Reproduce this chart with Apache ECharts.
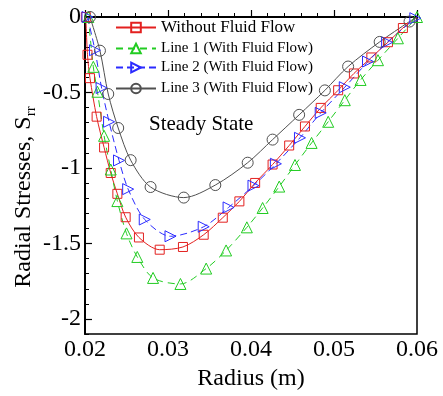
<!DOCTYPE html>
<html><head><meta charset="utf-8">
<script src="https://cdn.jsdelivr.net/npm/echarts@6/dist/echarts.min.js"></script>
<style>html,body{margin:0;padding:0;background:#fff}#c{width:443px;height:396px}</style>
</head><body><div id="c"></div>
<script>
const seriesNames = ['Without Fluid Flow','Line 1 (With Fluid Flow)','Line 2 (With Fluid Flow)','Line 3 (With Fluid Flow)'];
const radiusRed = [0.0201,0.0203,0.0206,0.0214,0.0223,0.0231,0.0239,0.0249,0.0265,0.0290,0.0318,0.0343,0.0366,0.0386,0.0405,0.0426,0.0446,0.0465,0.0484,0.0505,0.0524,0.0545,0.0565,0.0583,0.0600];
const stressRed = [0,-0.25,-0.405,-0.66,-0.864,-1.033,-1.171,-1.326,-1.46,-1.541,-1.523,-1.442,-1.329,-1.221,-1.099,-0.977,-0.851,-0.725,-0.602,-0.485,-0.374,-0.268,-0.167,-0.073,0];
const radiusGreen = [0.0204,0.0210,0.0215,0.0223,0.0231,0.0239,0.0250,0.0263,0.0282,0.0315,0.0346,0.0370,0.0395,0.0414,0.0434,0.0453,0.0473,0.0493,0.0513,0.0532,0.0553,0.0577,0.0600];
const stressGreen = [0,-0.33,-0.495,-0.787,-1.01,-1.219,-1.433,-1.589,-1.728,-1.768,-1.666,-1.546,-1.393,-1.265,-1.123,-0.98,-0.834,-0.694,-0.551,-0.417,-0.286,-0.141,0];
const radiusBlue = [0.0203,0.0212,0.0220,0.0229,0.0241,0.0252,0.0272,0.0303,0.0343,0.0373,0.0403,0.0430,0.0459,0.0484,0.0513,0.0541,0.0564,0.0598];
const stressBlue = [0,-0.22,-0.47,-0.694,-0.95,-1.14,-1.341,-1.452,-1.389,-1.261,-1.117,-0.972,-0.8,-0.635,-0.465,-0.295,-0.168,-0.008];
const radiusGray = [0.0206,0.0218,0.0228,0.0240,0.0255,0.0279,0.0319,0.0357,0.0396,0.0426,0.0458,0.0489,0.0517,0.0555,0.0591,0.0600];
const stressGray = [0,-0.223,-0.51,-0.735,-0.948,-1.126,-1.196,-1.113,-0.965,-0.812,-0.648,-0.486,-0.328,-0.165,-0.03,0];
const yMajorTicks = [-2,-1.5,-1,-0.5,0];

const FONT = '"Liberation Serif","Times New Roman",serif';
function pts(xs, ys, noMarkerLast) {
  return xs.map((x,i) => {
    const d = {value:[x, ys[i]]};
    if (noMarkerLast && i === xs.length-1) d.symbol = 'none';
    return d;
  });
}
const chart = echarts.init(document.getElementById('c'), null, {renderer:'canvas'});
function mkSeries(name, data, color, symbol, size, lineType, rotate) {
  return {
    name, type:'line', data, smooth:0.3, xAxisIndex:0, yAxisIndex:0,
    symbol, symbolSize:size, symbolRotate: rotate||0,
    lineStyle:{color, width:1, type:lineType},
    itemStyle:{color:'rgba(255,255,255,0)', borderColor:color, borderWidth:1},
    emphasis:{disabled:true}, animation:false, z:3
  };
}
const legendRows = [
  {name:seriesNames[0], top:19, size:17},
  {name:seriesNames[1], top:41, size:15},
  {name:seriesNames[2], top:60, size:15},
  {name:seriesNames[3], top:81, size:15}
];
chart.setOption({
  backgroundColor:'#fff',
  animation:false,
  grid:{left:85, right:26, top:17, bottom:49.5, show:true, borderColor:'#000', borderWidth:1.5, backgroundColor:'transparent'},
  legend: legendRows.map(r => ({
    data:[{name:r.name}], left:115, top:r.top, padding:0, itemWidth:40, itemHeight:12, itemGap:5,
    textStyle:{fontFamily:FONT, fontSize:r.size, color:'#000'}, selectedMode:false
  })),
  xAxis:[{
    type:'value', min:0.02, max:0.06, interval:0.01,
    axisLine:{show:true, lineStyle:{color:'#000', width:2}},
    axisTick:{show:true, inside:true, length:7, lineStyle:{color:'#000', width:1.2}},
    minorTick:{show:true, splitNumber:5, length:4, lineStyle:{color:'#000', width:1}},
    axisLabel:{fontFamily:FONT, fontSize:24, color:'#000', margin:4, formatter:v=>v.toFixed(2)},
    splitLine:{show:false},
    name:'Radius (m)', nameLocation:'middle', nameGap:28,
    nameTextStyle:{fontFamily:FONT, fontSize:24, color:'#000', verticalAlign:'top'}
  }],
  yAxis:[{
    type:'value', min:-2.1, max:0, interval:0.1,
    axisLine:{show:true, lineStyle:{color:'#000', width:2}},
    axisTick:{show:true, inside:true, length:4, lineStyle:{color:'#000', width:1}},
    axisLabel:{show:false}, splitLine:{show:false}
  },{
    type:'value', min:-2.1, max:0, position:'left',
    axisLine:{show:false},
    axisTick:{show:true, inside:true, length:7, customValues:yMajorTicks, lineStyle:{color:'#000', width:1.2}},
    axisLabel:{show:true, customValues:yMajorTicks, fontFamily:FONT, fontSize:24, color:'#000', margin:4},
    splitLine:{show:false}
  }],
  graphic:[
    {type:'text', x:149, y:124, style:{text:'Steady State', fontFamily:FONT, fontSize:21, fill:'#000', textVerticalAlign:'middle'}},
    {type:'text', x:24, y:197, rotation:Math.PI/2,
     style:{text:'Radial Stresses, S{s|rr}', fontFamily:FONT, fontSize:24, fill:'#000', textAlign:'center', textVerticalAlign:'middle',
       rich:{s:{fontSize:15, fontFamily:FONT, fill:'#000', padding:[14,0,0,0]}}}}
  ],
  series:[
    mkSeries(seriesNames[0], pts(radiusRed, stressRed, true), '#e3201f', 'rect', 9, 'solid'),
    mkSeries(seriesNames[1], pts(radiusGreen, stressGreen, false), '#22cc22', 'triangle', 11, [7,5]),
    mkSeries(seriesNames[2], pts(radiusBlue, stressBlue, false), '#2b2bff', 'triangle', 11, [7,4], -90),
    mkSeries(seriesNames[3], pts(radiusGray, stressGray, true), '#505050', 'circle', 11, 'solid')
  ]
});
</script></body></html>
